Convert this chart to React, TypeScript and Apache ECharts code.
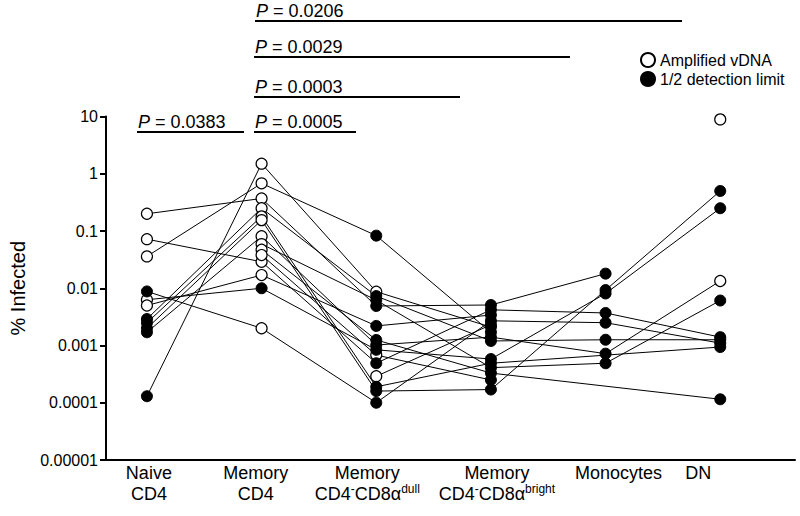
import { useEffect, useRef } from "react";
import * as echarts from "echarts";

// ---- data ----
const categories = [
  "Naive CD4",
  "Memory CD4",
  "Memory CD4-CD8α dull",
  "Memory CD4-CD8α bright",
  "Monocytes",
  "DN",
];
const yTickLabels = ["0.00001", "0.0001", "0.001", "0.01", "0.1", "1", "10"];

// one entry per subject (S1..S16); null = no value
const naive = [0.00013, 0.036, 0.2, 0.072, 0.0088, 0.0063, 0.005, 0.0029, 0.0025, 0.002, 0.0017, null, null, null, null, null];
const memory = [1.5, 0.68, 0.37, 0.029, 0.002, 0.01, 0.017, 0.25, 0.18, 0.155, 0.081, 0.059, 0.047, 0.038, null, null];
const dull = [0.0087, 0.083, 0.0049, 0.00049, 0.0001, 0.00084, 0.0022, 0.0073, 0.00019, 0.00016, 0.00102, 0.0062, 0.00125, 0.00068, 0.00029, null];
const bright = [0.0021, 0.0017, 0.0051, 0.0042, 0.0027, 0.00058, 0.0034, 0.0012, 0.00049, 0.00017, 0.0014, 0.00041, 0.00033, 0.00025, 0.0023, null];
const monocytes = [null, null, 0.018, 0.0037, 0.0025, 0.0081, null, 0.00126, null, 0.0093, 0.00072, 0.00049, null, null, null, null];
const dn = [null, null, null, 0.0014, 0.0011, 0.25, null, 0.00126, 0.00094, 0.5, 0.0134, 0.0061, 0.000115, null, null, 8.9];

// 1 = amplified vDNA (open circle), 0 = 1/2 detection limit (filled)
const naiveAmp = [0, 1, 1, 1, 0, 1, 1, 0, 0, 0, 0, 0, 0, 0, 0, 0];
const memoryAmp = [1, 1, 1, 1, 1, 0, 1, 1, 1, 1, 1, 1, 1, 1, 0, 0];
const dullAmp = [1, 0, 0, 0, 0, 0, 0, 0, 0, 0, 0, 0, 0, 1, 1, 0];
const brightAmp = [0, 0, 0, 0, 0, 0, 0, 0, 0, 0, 0, 0, 0, 0, 0, 0];
const monocytesAmp = [0, 0, 0, 0, 0, 0, 0, 0, 0, 0, 0, 0, 0, 0, 0, 0];
const dnAmp = [0, 0, 0, 0, 0, 0, 0, 0, 0, 0, 1, 0, 0, 0, 0, 1];

const pValues = ["0.0383", "0.0005", "0.0003", "0.0029", "0.0206"];
const legendNames = ["Amplified vDNA", "1/2 detection limit"];

// ---- layout ----
const FONT = "'Liberation Sans', Arial, Helvetica, sans-serif";
const pLayout = [
  { x1: 137, x2: 244, y: 132 },
  { x1: 254, x2: 356, y: 132 },
  { x1: 254, x2: 460, y: 97 },
  { x1: 254, x2: 570, y: 57 },
  { x1: 255, x2: 682, y: 21 },
];
// label anchor positions (in axis units), slightly offset like the original figure
const labelAnchors = [0.017, 0.948, 1.922, 3.052, 4.113, 4.809];

const labelRich = [
  "{a|Naive}\n{a|CD4}",
  "{a|Memory}\n{a|CD4}",
  "{a|Memory}\n{a|CD4}{s|-}{a|CD8α}{s|dull}",
  "{a|Memory}\n{a|CD4}{s|-}{a|CD8α}{s|bright}",
  "{a|Monocytes}",
  "{a|DN}",
];

export default function App() {
  const ref = useRef<HTMLDivElement>(null);

  useEffect(() => {
    if (!ref.current) return;
    const chart = echarts.init(ref.current, null, { renderer: "svg" });

    const columns = [naive, memory, dull, bright, monocytes, dn];
    const ampCols = [naiveAmp, memoryAmp, dullAmp, brightAmp, monocytesAmp, dnAmp];
    const n = naive.length;

    const lineSeries: any[] = [];
    for (let s = 0; s < n; s++) {
      const data: any[] = [];
      columns.forEach((col, i) => {
        if (col[s] != null) data.push([i, col[s]]);
      });
      if (data.length >= 2) {
        lineSeries.push({
          type: "line",
          data,
          symbol: "none",
          silent: true,
          z: 2,
          lineStyle: { color: "#000", width: 1 },
        });
      }
    }
    const openPts: any[] = [];
    const filledPts: any[] = [];
    columns.forEach((col, i) => {
      col.forEach((v, s) => {
        if (v == null) return;
        (ampCols[i][s] ? openPts : filledPts).push([i, v]);
      });
    });

    const graphic: any[] = [];
    pValues.forEach((p, k) => {
      const L = pLayout[k];
      graphic.push({
        type: "line",
        shape: { x1: L.x1, y1: L.y, x2: L.x2, y2: L.y },
        style: { stroke: "#000", lineWidth: 2 },
      });
      graphic.push({
        type: "text",
        x: L.x1 + 1,
        y: L.y - 1,
        style: {
          text: "{i|P} = " + p,
          fill: "#000",
          fontSize: 18,
          fontFamily: FONT,
          verticalAlign: "bottom",
          align: "left",
          rich: { i: { fontStyle: "italic", fontSize: 18, fontFamily: FONT, fill: "#000" } },
        },
      });
    });

    chart.setOption({
      animation: false,
      backgroundColor: "#fff",
      grid: { left: 104, right: 5, top: 116.5, bottom: 56 },
      legend: {
        data: legendNames,
        orient: "vertical",
        left: 640,
        top: 52,
        padding: 0,
        itemWidth: 14,
        itemHeight: 14,
        itemGap: 3,
        icon: "circle",
        selectedMode: false,
        textStyle: { fontSize: 16, fontFamily: FONT, color: "#000" },
      },
      xAxis: {
        type: "value",
        min: -0.357,
        max: 5.652,
        splitLine: { show: false },
        axisTick: { show: false },
        axisLine: { show: true, onZero: false, lineStyle: { color: "#000", width: 2 } },
        axisLabel: {
          customValues: labelAnchors,
          formatter: (v: number) => labelRich[Math.round(v)] ?? "",
          margin: 2,
          color: "#000",
          rich: {
            a: { fontSize: 18, lineHeight: 21, fontFamily: FONT, color: "#000" },
            s: { fontSize: 12, fontFamily: FONT, color: "#000", verticalAlign: "top", lineHeight: 21 },
          },
        },
      },
      yAxis: {
        type: "log",
        logBase: 10,
        min: 0.00001,
        max: 10,
        name: "% Infected",
        nameLocation: "middle",
        nameGap: 78,
        nameRotate: 90,
        nameTextStyle: { fontSize: 20, fontFamily: FONT, color: "#000" },
        splitLine: { show: false },
        axisLine: { show: true, onZero: false, lineStyle: { color: "#000", width: 2 } },
        axisTick: { show: true, inside: false, length: 6, lineStyle: { color: "#000", width: 2 } },
        axisLabel: {
          formatter: (v: number) => yTickLabels[Math.round(Math.log10(v)) + 5] ?? "",
          fontSize: 16,
          fontFamily: FONT,
          color: "#000",
          margin: 8,
        },
      },
      graphic,
      series: [
        ...lineSeries,
        {
          name: legendNames[0],
          type: "scatter",
          data: openPts,
          symbol: "circle",
          symbolSize: 11,
          z: 3,
          itemStyle: { color: "#fff", borderColor: "#000", borderWidth: 1.2, opacity: 1 },
        },
        {
          name: legendNames[1],
          type: "scatter",
          data: filledPts,
          symbol: "circle",
          symbolSize: 11,
          z: 4,
          itemStyle: { color: "#000", borderColor: "#000", borderWidth: 1, opacity: 1 },
        },
      ],
    });
    return () => chart.dispose();
  }, []);

  return (
    <div
      ref={ref}
      style={{ position: "fixed", left: 0, top: 0, width: 800, height: 516, background: "#fff" }}
    />
  );
}
